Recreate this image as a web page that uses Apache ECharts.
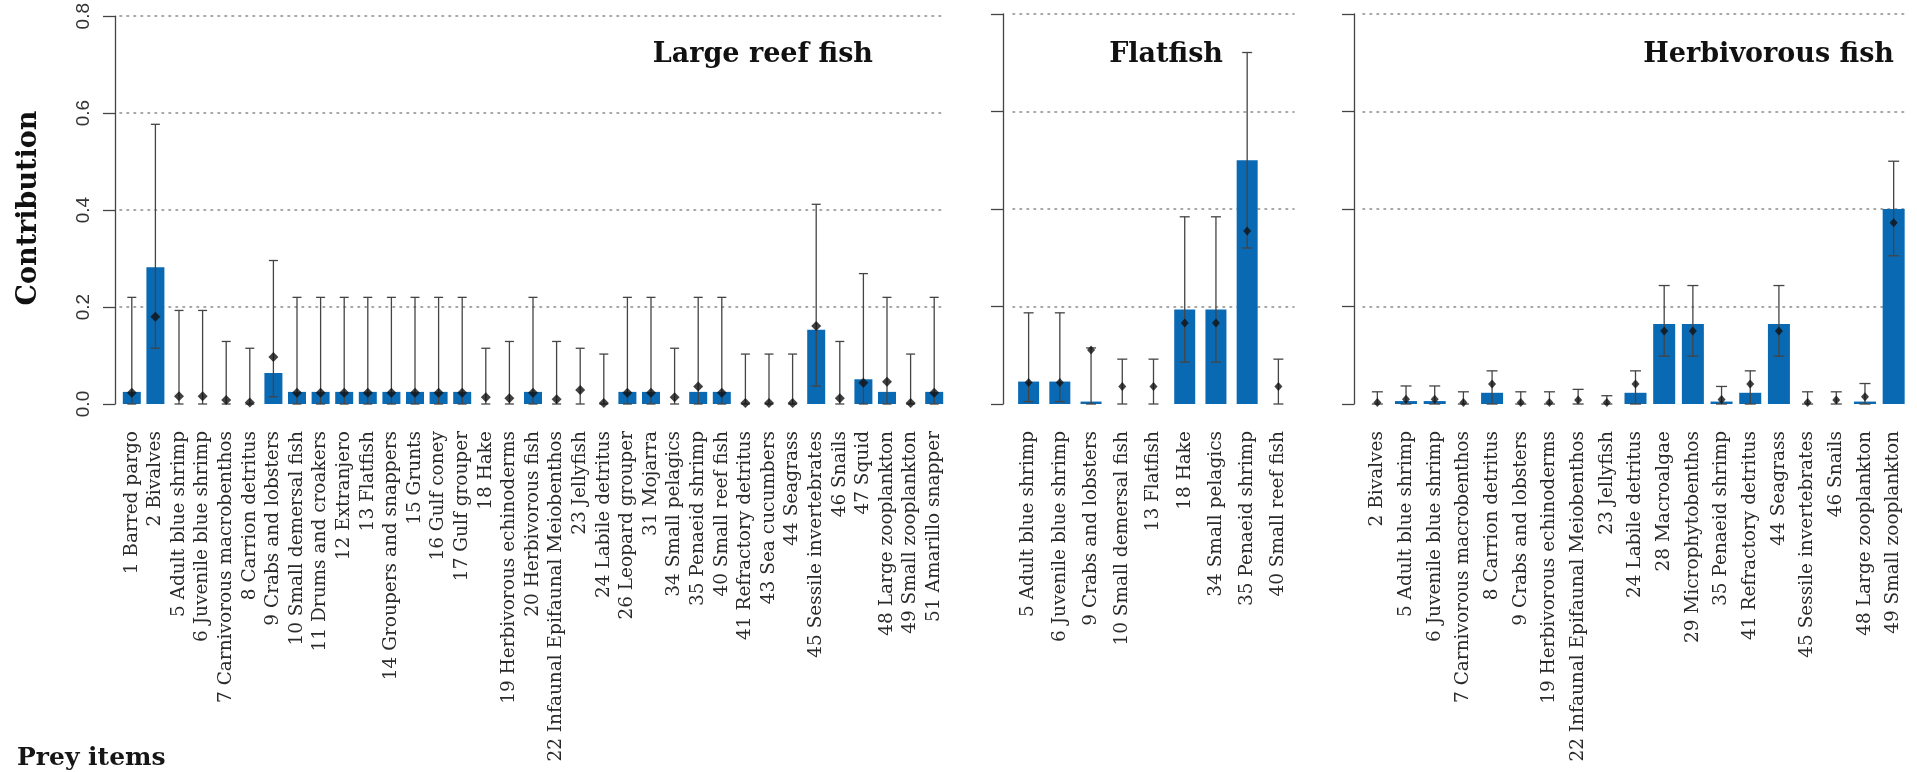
<!DOCTYPE html>
<html>
<head>
<meta charset="utf-8">
<script src="https://cdn.jsdelivr.net/npm/echarts@6/dist/echarts.min.js"></script>
<style>
  html, body { margin: 0; padding: 0; background: #fff; }
  #chart { width: 1917px; height: 772px; }
</style>
</head>
<body>
<div id="chart"></div>
<script>
// Prey contributions to the diet of three predator groups
const yTicks = [0, 0.2, 0.4, 0.6, 0.8];

// Large reef fish
const reefCats = ['1 Barred pargo', '2 Bivalves', '5 Adult blue shrimp', '6 Juvenile blue shrimp',
  '7 Carnivorous macrobenthos', '8 Carrion detritus', '9 Crabs and lobsters', '10 Small demersal fish',
  '11 Drums and croakers', '12 Extranjero', '13 Flatfish', '14 Groupers and snappers', '15 Grunts',
  '16 Gulf coney', '17 Gulf grouper', '18 Hake', '19 Herbivorous echinoderms', '20 Herbivorous fish',
  '22 Infaunal Epifaunal Meiobenthos', '23 Jellyfish', '24 Labile detritus', '26 Leopard grouper',
  '31 Mojarra', '34 Small pelagics', '35 Penaeid shrimp', '40 Small reef fish', '41 Refractory detritus',
  '43 Sea cucumbers', '44 Seagrass', '45 Sessile invertebrates', '46 Snails', '47 Squid',
  '48 Large zooplankton', '49 Small zooplankton', '51 Amarillo snapper'];
const reefBar = [0.025, 0.282, 0, 0, 0, 0, 0.064, 0.025, 0.025, 0.025, 0.025, 0.025, 0.025, 0.025, 0.025,
  0, 0, 0.025, 0, 0, 0, 0.025, 0.025, 0, 0.025, 0.025, 0, 0, 0, 0.153, 0, 0.051, 0.025, 0, 0.025];
const reefMean = [0.023, 0.18, 0.016, 0.016, 0.008, 0.003, 0.097, 0.023, 0.023, 0.023, 0.023, 0.023, 0.023,
  0.023, 0.023, 0.014, 0.012, 0.023, 0.010, 0.029, 0.002, 0.023, 0.023, 0.014, 0.036, 0.023, 0.002, 0.002,
  0.002, 0.161, 0.012, 0.044, 0.046, 0.002, 0.023];
const reefLow = [0, 0.115, 0, 0, 0, 0, 0.015, 0, 0, 0, 0, 0, 0, 0, 0, 0, 0, 0, 0, 0, 0, 0, 0, 0, 0, 0, 0,
  0, 0, 0.037, 0, 0, 0, 0, 0];
const reefHigh = [0.22, 0.577, 0.193, 0.193, 0.129, 0.115, 0.296, 0.22, 0.22, 0.22, 0.22, 0.22, 0.22, 0.22,
  0.22, 0.115, 0.129, 0.22, 0.129, 0.115, 0.103, 0.22, 0.22, 0.115, 0.22, 0.22, 0.103, 0.103, 0.103, 0.412,
  0.129, 0.269, 0.22, 0.103, 0.22];

// Flatfish
const flatCats = ['5 Adult blue shrimp', '6 Juvenile blue shrimp', '9 Crabs and lobsters',
  '10 Small demersal fish', '13 Flatfish', '18 Hake', '34 Small pelagics', '35 Penaeid shrimp',
  '40 Small reef fish'];
const flatBar = [0.046, 0.046, 0.005, 0, 0, 0.194, 0.194, 0.50, 0];
const flatMean = [0.044, 0.044, 0.111, 0.036, 0.036, 0.166, 0.166, 0.355, 0.036];
const flatLow = [0.005, 0.005, 0, 0, 0, 0.086, 0.086, 0.32, 0];
const flatHigh = [0.187, 0.187, 0.115, 0.092, 0.092, 0.384, 0.384, 0.721, 0.092];

// Herbivorous fish
const herbCats = ['2 Bivalves', '5 Adult blue shrimp', '6 Juvenile blue shrimp', '7 Carnivorous macrobenthos',
  '8 Carrion detritus', '9 Crabs and lobsters', '19 Herbivorous echinoderms',
  '22 Infaunal Epifaunal Meiobenthos', '23 Jellyfish', '24 Labile detritus', '28 Macroalgae',
  '29 Microphytobenthos', '35 Penaeid shrimp', '41 Refractory detritus', '44 Seagrass',
  '45 Sessile invertebrates', '46 Snails', '48 Large zooplankton', '49 Small zooplankton'];
const herbBar = [0, 0.006, 0.006, 0, 0.023, 0, 0, 0, 0, 0.023, 0.164, 0.164, 0.005, 0.023, 0.164, 0, 0,
  0.005, 0.40];
const herbMean = [0.003, 0.01, 0.01, 0.003, 0.041, 0.003, 0.003, 0.008, 0.003, 0.041, 0.15, 0.15, 0.009,
  0.041, 0.15, 0.003, 0.008, 0.015, 0.372];
const herbLow = [0, 0, 0, 0, 0, 0, 0, 0, 0, 0, 0.098, 0.098, 0, 0, 0.098, 0, 0, 0, 0.304];
const herbHigh = [0.025, 0.037, 0.037, 0.025, 0.068, 0.025, 0.025, 0.030, 0.017, 0.068, 0.243, 0.243, 0.036,
  0.068, 0.243, 0.025, 0.025, 0.042, 0.498];

const panelTitles = ['Large reef fish', 'Flatfish', 'Herbivorous fish'];

const BAR_COLOR = '#0a69b3';
const SERIF = '"DejaVu Serif", serif';

const panels = [
  { cats: reefCats, bar: reefBar, mean: reefMean, low: reefLow, high: reefHigh,
    grid: { left: 120, top: 14, width: 826, height: 390 }, axisOffset: 5, barWidth: 18,
    cap: 9, sym: [10, 10], showLabels: true, titleRight: 1039 },
  { cats: flatCats, bar: flatBar, mean: flatMean, low: flatLow, high: flatHigh,
    grid: { left: 1013, top: 14, width: 281, height: 390 }, axisOffset: 10, barWidth: 21,
    cap: 10, sym: [8, 9], showLabels: false, titleRight: 689 },
  { cats: herbCats, bar: herbBar, mean: herbMean, low: herbLow, high: herbHigh,
    grid: { left: 1363, top: 14, width: 545, height: 390 }, axisOffset: 9, barWidth: 22,
    cap: 11, sym: [8, 9], showLabels: false, titleRight: 18 }
];

const option = {
  animation: false,
  backgroundColor: '#fff',
  grid: [], xAxis: [], yAxis: [], series: [], title: [],
  graphic: [
    { type: 'text', x: 29, y: 208, rotation: Math.PI / 2,
      style: { text: 'Contribution', font: 'bold 27px ' + SERIF, fill: '#111',
               align: 'center', verticalAlign: 'middle' } },
    { type: 'text', left: 17, top: 746,
      style: { text: 'Prey items', font: 'bold 25px ' + SERIF, fill: '#161616' } }
  ]
};

panels.forEach((p, i) => {
  option.grid.push(p.grid);
  option.xAxis.push({
    type: 'category', gridIndex: i, data: p.cats,
    axisLine: { show: false }, axisTick: { show: false },
    axisLabel: { rotate: 90, interval: 0, margin: 27, fontFamily: SERIF, fontSize: 18.5, color: '#2a2a2a' }
  });
  option.yAxis.push({
    type: 'value', gridIndex: i, min: yTicks[0], max: yTicks[yTicks.length - 1], interval: 0.2,
    offset: p.axisOffset,
    axisLine: { show: true, lineStyle: { color: '#444', width: 1.3 } },
    axisTick: { show: true, length: 12, lineStyle: { color: '#444', width: 1.3 } },
    axisLabel: { show: p.showLabels, rotate: 90, margin: 22, fontFamily: '"Liberation Sans", Arial, sans-serif',
      fontSize: 19, color: '#333', formatter: v => v.toFixed(1) },
    splitLine: { show: true, lineStyle: { type: [1.6, 5.4], width: 1.6, cap: 'round',
      color: ['rgba(0,0,0,0)', '#8a8a8a', '#8a8a8a', '#8a8a8a', '#8a8a8a'] } }
  });
  option.title.push({
    text: panelTitles[i], right: p.titleRight, top: 36,
    textStyle: { fontFamily: SERIF, fontWeight: 'bold', fontSize: 27, color: '#111' }
  });
  option.series.push({
    type: 'bar', xAxisIndex: i, yAxisIndex: i, data: p.bar, barWidth: p.barWidth,
    itemStyle: { color: BAR_COLOR }, z: 2
  });
  option.series.push({
    type: 'custom', xAxisIndex: i, yAxisIndex: i, z: 3,
    data: p.cats.map((c, k) => [k, p.low[k], p.high[k]]),
    renderItem: (params, api) => {
      const k = api.value(0);
      const lo = api.coord([k, api.value(1)]);
      const hi = api.coord([k, api.value(2)]);
      const h = p.cap / 2;
      const style = { stroke: '#444', lineWidth: 1.3 };
      return { type: 'group', children: [
        { type: 'line', shape: { x1: lo[0], y1: lo[1], x2: hi[0], y2: hi[1] }, style },
        { type: 'line', shape: { x1: hi[0] - h, y1: hi[1], x2: hi[0] + h, y2: hi[1] }, style },
        { type: 'line', shape: { x1: lo[0] - h, y1: lo[1], x2: lo[0] + h, y2: lo[1] }, style }
      ] };
    }
  });
  option.series.push({
    type: 'scatter', xAxisIndex: i, yAxisIndex: i, z: 4,
    data: p.mean.map((v, k) => [k, v]),
    symbol: 'diamond', symbolSize: p.sym,
    itemStyle: { color: '#111' }
  });
});

const chart = echarts.init(document.getElementById('chart'), null, { renderer: 'canvas' });
chart.setOption(option);
</script>
</body>
</html>
